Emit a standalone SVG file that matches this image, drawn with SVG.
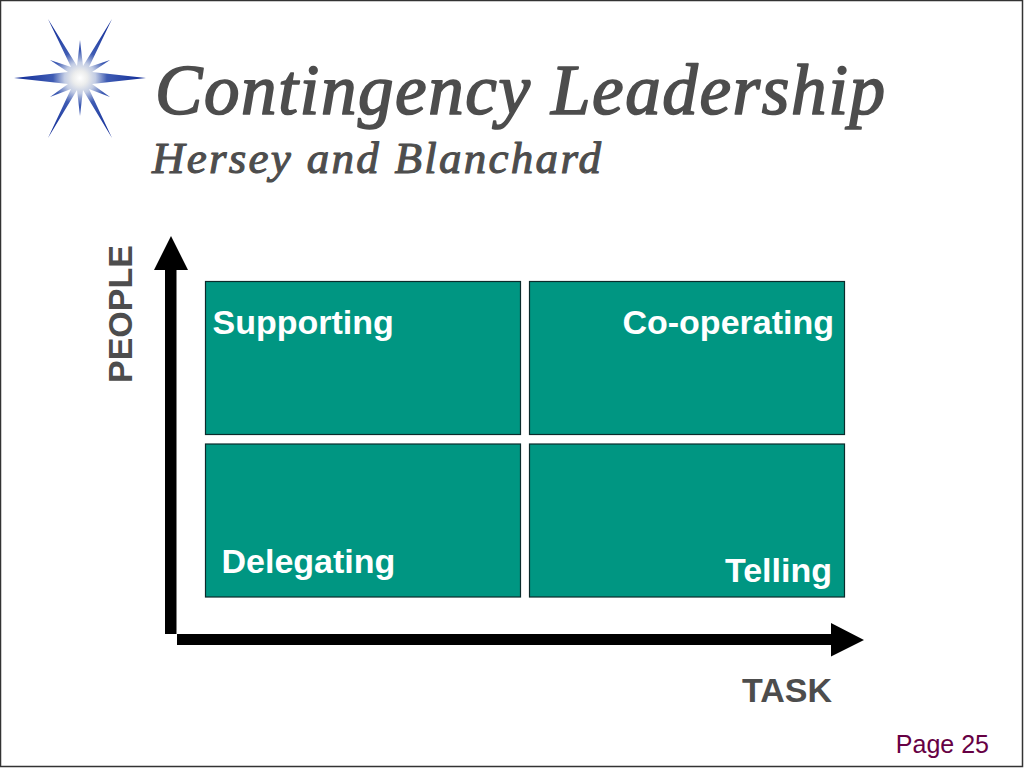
<svg xmlns="http://www.w3.org/2000/svg" width="1024" height="768" viewBox="0 0 1024 768">
<style>
.sans{font-family:"Liberation Sans",Arial,sans-serif}
.title{font-family:"Liberation Serif","Times New Roman",serif;font-style:italic;font-weight:normal;fill:#4d4d4d;stroke:#4d4d4d;stroke-linejoin:round}
.q{fill:#009682;stroke:#0b2b2b;stroke-width:1.2}
.ql{font-family:"Liberation Sans",Arial,sans-serif;font-weight:bold;font-size:34px;fill:#fff}
.ax{font-family:"Liberation Sans",Arial,sans-serif;font-weight:bold;font-size:34px;fill:#4d4d4d}
</style>
<defs>
<radialGradient id="starGrad" gradientUnits="userSpaceOnUse" cx="80" cy="78" r="60">
<stop offset="0" stop-color="#ffffff"/>
<stop offset="0.12" stop-color="#eceded"/>
<stop offset="0.26" stop-color="#c2cce4"/>
<stop offset="0.45" stop-color="#3f5cb4"/>
<stop offset="1" stop-color="#15309a"/>
</radialGradient>
</defs>
<rect x="0.5" y="0.5" width="1022" height="766" fill="#ffffff" stroke="#333333" stroke-width="1.5"/>
<g id="star">
<polygon fill="url(#starGrad)" points="48,19 77,66 80,40 83,66 112,19 89,67 110,60 92,72 146,78 92,84 110,97 89,89 112,138 83,90 80,116 77,90 48,138 71,89 50,97 68,84 14,78 68,72 50,60 71,67"/>
</g>
<g id="title">
<text class="title" x="155" y="114" font-size="71" stroke-width="1.7" textLength="730" lengthAdjust="spacing">Contingency Leadership</text>
<text class="title" x="152" y="173" font-size="45" stroke-width="1.1" textLength="449" lengthAdjust="spacing">Hersey and Blanchard</text>
</g>
<g id="connectors">
<path id="axis-people" fill="#000" d="M165,634V270H154L171,236L188,270H176.500V634Z"/>
<path id="axis-task" fill="#000" d="M177,634H831V623L864,640L831,656.500V645H177Z"/>
</g>
<g id="supporting"><rect class="q" x="205.500" y="281.500" width="315" height="153"/><text class="ql" x="212.500" y="334">Supporting</text></g>
<g id="co-operating"><rect class="q" x="529.500" y="281.500" width="315" height="153"/><text class="ql" x="834" y="334" text-anchor="end">Co-operating</text></g>
<g id="delegating"><rect class="q" x="205.500" y="444" width="315" height="153"/><text class="ql" x="221.500" y="573">Delegating</text></g>
<g id="telling"><rect class="q" x="529.500" y="444" width="315" height="153"/><text class="ql" x="832" y="582" text-anchor="end">Telling</text></g>
<g id="people-label"><text class="ax" transform="translate(132,383) rotate(-90)">PEOPLE</text></g>
<g id="task-label"><text class="ax" x="742" y="702">TASK</text></g>
<g id="page"><text class="sans" x="989" y="753" text-anchor="end" font-size="25" fill="#660044">Page 25</text></g>
</svg>
